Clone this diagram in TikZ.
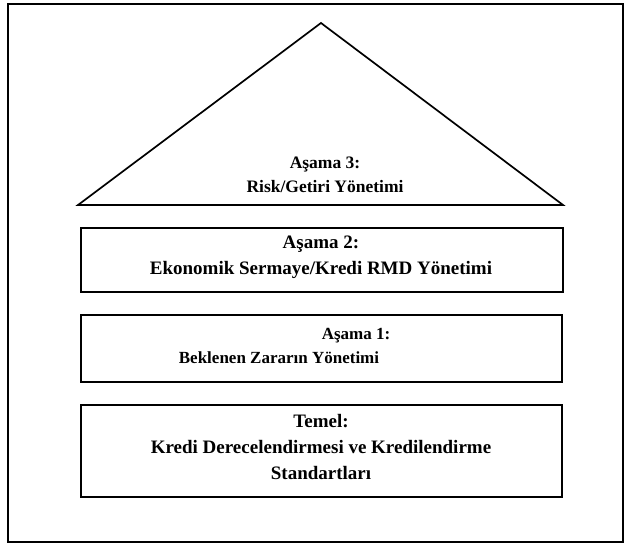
\documentclass[tikz,border=0pt]{standalone}
\usepackage{fontspec}
\setmainfont{Liberation Serif}
\begin{document}
\begin{tikzpicture}[x=1pt,y=-1pt,
  frame/.style={draw=black,line width=2.8pt},
  layer/.style={draw=black,line width=1.7pt},
  lbl/.style={inner sep=0pt,font=\bfseries,align=center},
  small/.style={font=\fontsize{17.5}{24.5}\selectfont\bfseries},
  mid/.style={font=\fontsize{17}{23}\selectfont\bfseries},
  large/.style={font=\fontsize{19}{26}\selectfont\bfseries}]
  \useasboundingbox (0,0) rectangle (627,548);
  % outer frame
  \draw[frame] (8,4) rectangle (623,542);
  % top of the pyramid
  \coordinate (apex) at (321,23);
  \coordinate (bl) at (78,205);
  \coordinate (br) at (563,205);
  \draw[layer,line join=miter] (apex) -- (br) -- (bl) -- cycle;
  \node[lbl,small] (t3) at (325,175) {Aşama 3:\\Risk/Getiri Yönetimi};
  % stage 2
  \draw[layer] (81,228) rectangle (563,292);
  \node[lbl,large] (t2) at (321,257) {Aşama 2:\\Ekonomik Sermaye/Kredi RMD Yönetimi};
  % stage 1
  \draw[layer] (81,315) rectangle (562,382);
  \node[lbl,mid,anchor=base] (t1a) at (356,340) {Aşama 1:};
  \node[lbl,mid,anchor=base] (t1b) at (279,363) {Beklenen Zararın Yönetimi};
  % foundation
  \draw[layer] (81,405) rectangle (562,497);
  \node[lbl,large] (t0) at (321,447) {Temel:\\Kredi Derecelendirmesi ve Kredilendirme\\Standartları};
\end{tikzpicture}
\end{document}
